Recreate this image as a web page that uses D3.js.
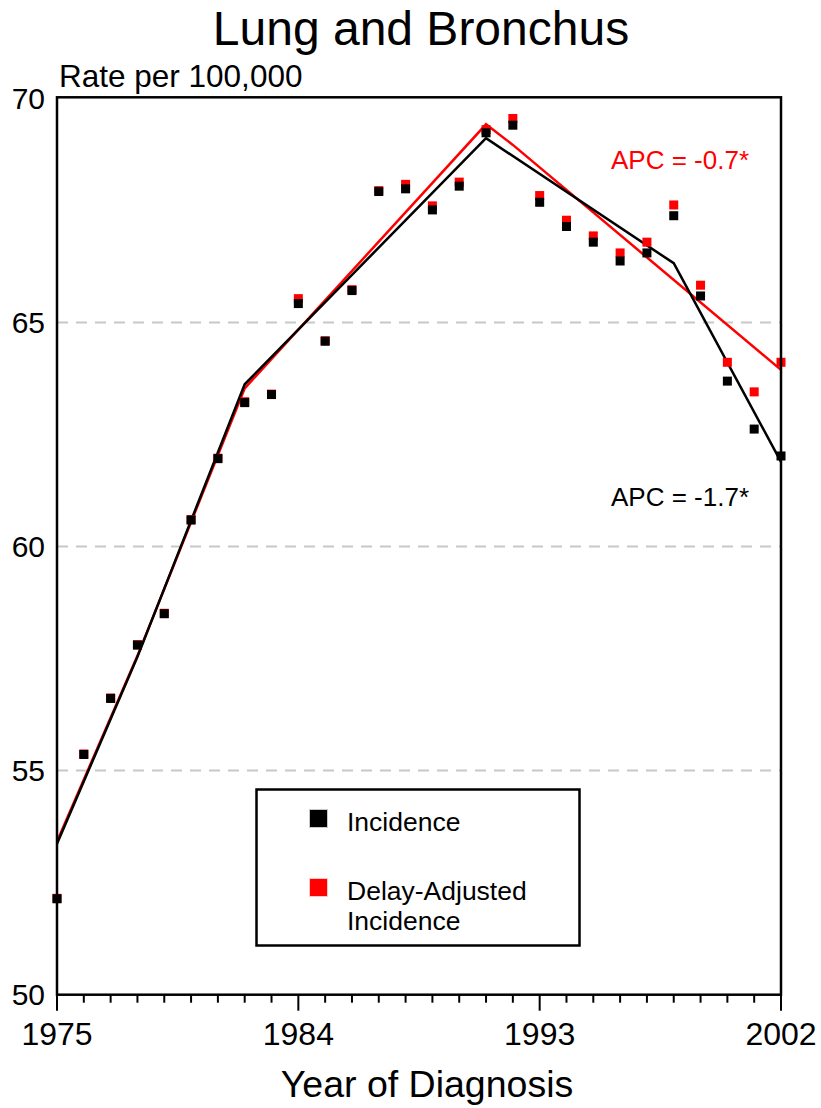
<!DOCTYPE html>
<html>
<head>
<meta charset="utf-8">
<script src="https://cdn.jsdelivr.net/npm/d3@7"></script>
<style>
  body { margin: 0; background: #fff; }
  svg { display: block; font-family: "Liberation Sans", Arial, sans-serif; }
</style>
</head>
<body>
<div id="chart"></div>
<script>
// observed rates
var years = [1975, 1976, 1977, 1978, 1979, 1980, 1981, 1982, 1983, 1984, 1985, 1986, 1987, 1988,
             1989, 1990, 1991, 1992, 1993, 1994, 1995, 1996, 1997, 1998, 1999, 2000, 2001, 2002];
var incidence = [52.14, 55.36, 56.61, 57.80, 58.50, 60.59, 61.96, 63.21, 63.39, 65.42, 64.58, 65.71, 67.92, 67.98,
                 67.51, 68.04, 69.23, 69.40, 67.68, 67.14, 66.79, 66.37, 66.55, 67.38, 65.59, 63.69, 62.62, 62.02];
var delayAdj = [52.15, 55.37, 56.62, 57.81, 58.51, 60.60, 61.97, 63.23, 63.40, 65.53, 64.59, 65.73, 67.94, 68.08,
                67.60, 68.13, 69.30, 69.55, 67.83, 67.28, 66.93, 66.55, 66.79, 67.62, 65.83, 64.11, 63.45, 64.11];

// joinpoint fits (break years and fitted values)
var fitYearsInc = [1975, 1978, 1982, 1991, 1998, 2002];
var fitInc = [53.37, 57.54, 63.62, 69.11, 66.32, 61.89];
var fitYearsAdj = [1975, 1978, 1982, 1991, 1992, 2002];
var fitAdj = [53.42, 57.56, 63.53, 69.42, 68.96, 63.94];

var yTicks = [50, 55, 60, 65, 70];
var xTicks = [1975, 1984, 1993, 2002];

var W = 821, H = 1108;
var svg = d3.select("#chart").append("svg")
  .attr("width", W).attr("height", H);

var x = d3.scaleLinear().domain([1975, 2002]).range([57, 781]);
var y = d3.scaleLinear().domain([50, 70]).range([994.7, 98.3]);

// dashed grid
svg.selectAll(".grid")
  .data(yTicks.filter(function(d){ return d > 50 && d < 70; }))
  .enter().append("line")
  .attr("x1", x(1975)).attr("x2", x(2002))
  .attr("y1", function(d){ return y(d); })
  .attr("y2", function(d){ return y(d); })
  .attr("stroke", "#c8c8c8").attr("stroke-width", 2)
  .attr("stroke-dasharray", "11,8");

// fitted lines
var line = d3.line()
  .x(function(d){ return x(d[0]); })
  .y(function(d){ return y(d[1]); });

svg.append("path")
  .datum(d3.zip(fitYearsAdj, fitAdj))
  .attr("d", line).attr("fill", "none")
  .attr("stroke", "#ff0000").attr("stroke-width", 2.5);

svg.append("path")
  .datum(d3.zip(fitYearsInc, fitInc))
  .attr("d", line).attr("fill", "none")
  .attr("stroke", "#000").attr("stroke-width", 2.5);

// points: red first, black on top
var s = 9;
svg.selectAll(".adj")
  .data(d3.zip(years, delayAdj))
  .enter().append("rect")
  .attr("x", function(d){ return x(d[0]) - s / 2; })
  .attr("y", function(d){ return y(d[1]) - s / 2; })
  .attr("width", s).attr("height", s)
  .attr("fill", "#ff0000");

svg.selectAll(".inc")
  .data(d3.zip(years, incidence))
  .enter().append("rect")
  .attr("x", function(d){ return x(d[0]) - s / 2; })
  .attr("y", function(d){ return y(d[1]) - s / 2; })
  .attr("width", s).attr("height", s)
  .attr("fill", "#000");

// frame
svg.append("rect")
  .attr("x", x(1975)).attr("y", y(70) - 1)
  .attr("width", x(2002) - x(1975)).attr("height", y(50) - y(70) + 1)
  .attr("fill", "none").attr("stroke", "#000").attr("stroke-width", 2.5);

// x ticks: every year minor, labelled years major
svg.selectAll(".xtick")
  .data(d3.range(1975, 2003))
  .enter().append("line")
  .attr("x1", function(d){ return x(d); })
  .attr("x2", function(d){ return x(d); })
  .attr("y1", y(50))
  .attr("y2", function(d){ return y(50) + (xTicks.indexOf(d) >= 0 ? 16 : 8); })
  .attr("stroke", "#000").attr("stroke-width", 2);

svg.selectAll(".xlab")
  .data(xTicks)
  .enter().append("text")
  .attr("x", function(d){ return x(d); })
  .attr("y", 1045)
  .attr("text-anchor", "middle")
  .attr("font-size", 32)
  .text(function(d){ return d; });

svg.selectAll(".ylab")
  .data(yTicks)
  .enter().append("text")
  .attr("x", 45)
  .attr("y", function(d){ return y(d) + 10.5; })
  .attr("text-anchor", "end")
  .attr("font-size", 30)
  .text(function(d){ return d; });

// titles
svg.append("text")
  .attr("x", 421).attr("y", 45)
  .attr("text-anchor", "middle").attr("font-size", 48)
  .text("Lung and Bronchus");

svg.append("text")
  .attr("x", 59).attr("y", 87)
  .attr("font-size", 31.5)
  .text("Rate per 100,000");

svg.append("text")
  .attr("x", 427).attr("y", 1097)
  .attr("text-anchor", "middle").attr("font-size", 37.5)
  .text("Year of Diagnosis");

// APC labels
svg.append("text")
  .attr("x", 611).attr("y", 169)
  .attr("font-size", 26).attr("fill", "#ff0000")
  .text("APC = -0.7*");

svg.append("text")
  .attr("x", 611).attr("y", 506)
  .attr("font-size", 26).attr("fill", "#000")
  .text("APC = -1.7*");

// legend
var lg = svg.append("g");
lg.append("rect")
  .attr("x", 256.5).attr("y", 789.5)
  .attr("width", 323).attr("height", 156)
  .attr("fill", "#fff").attr("stroke", "#000").attr("stroke-width", 2.5);

var legendItems = [
  { color: "#000", border: "#c8c8c8", lines: ["Incidence"], y: 809 },
  { color: "#ff0000", border: "#ffc8c8", lines: ["Delay-Adjusted", "Incidence"], y: 878 }
];
legendItems.forEach(function(it){
  lg.append("rect")
    .attr("x", 309.5).attr("y", it.y + 0.5)
    .attr("width", 18).attr("height", 18)
    .attr("fill", it.color).attr("stroke", it.border).attr("stroke-width", 1);
  var t = lg.append("text")
    .attr("x", 347).attr("y", it.y + 22)
    .attr("font-size", 26.5);
  it.lines.forEach(function(l, i){
    t.append("tspan").attr("x", 347).attr("dy", i === 0 ? 0 : 30).text(l);
  });
});
</script>
</body>
</html>
